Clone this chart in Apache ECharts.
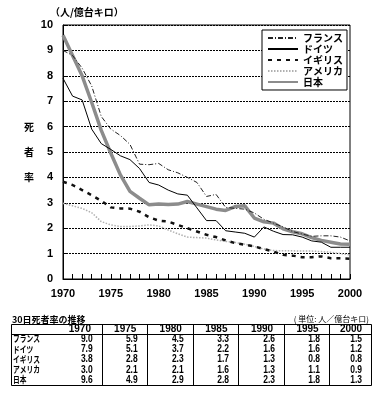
<!DOCTYPE html>
<html><head><meta charset="utf-8">
<script src="https://cdn.jsdelivr.net/npm/echarts@6/dist/echarts.min.js"></script>
<style>html,body{margin:0;padding:0;background:#fff}#c{width:382px;height:395px}</style>
</head><body><div id="c"></div>
<script>
// ---- data ----
const years = [];
for (let y = 1970; y <= 2000; y++) years.push(String(y));
const france  = [9.0, 8.8, 8.3, 7.6, 6.4, 5.9, 5.65, 5.3, 4.52, 4.5, 4.55, 4.3, 4.18, 4.0, 3.8, 3.25, 3.33, 2.82, 2.78, 2.75, 2.6, 2.35, 2.2, 2.05, 1.87, 1.77, 1.68, 1.7, 1.7, 1.65, 1.5];
const germany = [7.9, 7.2, 7.05, 5.9, 5.33, 5.1, 4.85, 4.7, 4.35, 3.8, 3.7, 3.5, 3.35, 3.3, 2.8, 2.3, 2.3, 1.9, 1.85, 1.8, 1.65, 2.05, 1.88, 1.75, 1.74, 1.65, 1.5, 1.45, 1.25, 1.25, 1.25];
const uk      = [3.83, 3.7, 3.5, 3.3, 3.08, 2.82, 2.78, 2.77, 2.65, 2.43, 2.3, 2.26, 2.13, 2.0, 1.87, 1.74, 1.65, 1.52, 1.41, 1.35, 1.28, 1.18, 1.08, 0.95, 0.92, 0.86, 0.86, 0.89, 0.82, 0.82, 0.8];
const usa     = [2.98, 2.88, 2.78, 2.61, 2.26, 2.13, 2.07, 2.07, 2.09, 2.13, 2.09, 1.93, 1.78, 1.65, 1.63, 1.61, 1.54, 1.48, 1.44, 1.37, 1.28, 1.18, 1.12, 1.11, 1.11, 1.1, 1.1, 1.08, 1.05, 1.0, 0.95];
const japan   = [9.6, 8.8, 8.0, 6.95, 5.85, 4.95, 4.1, 3.45, 3.18, 2.92, 2.95, 2.93, 2.95, 3.05, 2.95, 2.85, 2.75, 2.7, 2.85, 2.88, 2.4, 2.25, 2.2, 1.98, 1.86, 1.78, 1.63, 1.52, 1.45, 1.38, 1.37];
const seriesNames = ['フランス', 'ドイツ', 'イギリス', 'アメリカ', '日本'];
const yTicks = [0,1,2,3,4,5,6,7,8,9,10];

const tableTitle = '30日死者率の推移';
const tableUnit = '( 単位: 人／億台キロ)';
const tableYears = ['1970', '1975', '1980', '1985', '1990', '1995', '2000'];
const tFrance  = ['9.0', '5.9', '4.5', '3.3', '2.6', '1.8', '1.5'];
const tGermany = ['7.9', '5.1', '3.7', '2.2', '1.6', '1.6', '1.2'];
const tUk      = ['3.8', '2.8', '2.3', '1.7', '1.3', '0.8', '0.8'];
const tUsa     = ['3.0', '2.1', '2.1', '1.6', '1.3', '1.1', '0.9'];
const tJapan   = ['9.6', '4.9', '2.9', '2.8', '2.3', '1.8', '1.3'];
const tableValues = [tFrance, tGermany, tUk, tUsa, tJapan];

// ---- styles ----
const JP = '"Noto Sans CJK JP", sans-serif';
const NUM = '"Liberation Sans", Arial, sans-serif';
const lineStyles = [
  {color: '#222', width: 1, type: [5, 2, 1, 2]},
  {color: '#000', width: 1, type: 'solid'},
  {color: '#111', width: 2.5, type: [4, 5]},
  {color: '#b0b0b0', width: 1.5, type: [1.5, 1.5]},
  {color: '#8c8c8c', width: 3.5, type: 'solid'}
];
const seriesData = [france, germany, uk, usa, japan];
const zs = [3, 3, 3, 2, 2];

const chart = echarts.init(document.getElementById('c'), null, {renderer: 'canvas'});

// table graphics
const g = [];
const colEdges = [56, 101.7, 146.7, 192.7, 238, 284, 329, 371];
const tLeft = 11, tRight = 371, tTop = 324, tHead = 334, tBottom = 385;
g.push({type: 'rect', shape: {x: tLeft + 0.5, y: tTop + 0.5, width: tRight - tLeft, height: tBottom - tTop}, style: {fill: 'none', stroke: '#000', lineWidth: 1}});
g.push({type: 'line', shape: {x1: tLeft, y1: tHead + 0.5, x2: tRight, y2: tHead + 0.5}, style: {stroke: '#000', lineWidth: 1}});
for (let i = 1; i < colEdges.length - 1; i++) {
  const x = Math.round(colEdges[i]) + 0.5;
  g.push({type: 'line', shape: {x1: x, y1: tTop, x2: x, y2: tBottom}, style: {stroke: '#000', lineWidth: 1}});
}
g.push({type: 'text', style: {text: tableTitle, x: 12, y: 319.5, font: 'bold 9px ' + JP, fill: '#000', textAlign: 'left', textVerticalAlign: 'middle'}});
g.push({type: 'text', style: {text: tableUnit, x: 369, y: 319, font: '8px ' + JP, fill: '#000', textAlign: 'right', textVerticalAlign: 'middle'}});
tableYears.forEach((yr, i) => {
  g.push({type: 'text', style: {text: yr, x: (colEdges[i] + colEdges[i + 1]) / 2 + 1, y: 329.5, font: 'bold 10px ' + NUM, fill: '#000', textAlign: 'center', textVerticalAlign: 'middle'}});
});
seriesNames.forEach((nm, r) => {
  const cy = 339 + r * 10.25;
  g.push({type: 'text', x: 13, y: cy, scaleX: 0.75, style: {text: nm, x: 0, y: 0, font: 'bold 9px ' + JP, fill: '#000', textAlign: 'left', textVerticalAlign: 'middle'}});
  tableValues[r].forEach((v, i) => {
    g.push({type: 'text', x: colEdges[i + 1] - 9, y: cy, scaleX: 0.85, style: {text: v, x: 0, y: 0, font: 'bold 10px ' + NUM, fill: '#000', textAlign: 'right', textVerticalAlign: 'middle'}});
  });
});
// axis captions
g.push({type: 'text', style: {text: '（人/億台キロ）', x: 50, y: 12, font: 'bold 10px ' + JP, fill: '#000', textAlign: 'left', textVerticalAlign: 'middle'}});
['死', '者', '率'].forEach((ch, i) => {
  g.push({type: 'text', style: {text: ch, x: 29, y: 127 + i * 25, font: 'bold 10px ' + JP, fill: '#000', textAlign: 'center', textVerticalAlign: 'middle'}});
});

const option = {
  animation: false,
  backgroundColor: '#fff',
  grid: {left: 63, right: 32, top: 25, bottom: 116, show: true, borderColor: '#000', borderWidth: 1, backgroundColor: 'transparent'},
  legend: {
    data: seriesNames,
    orient: 'vertical',
    left: 262, top: 30,
    backgroundColor: '#fff',
    borderColor: '#000', borderWidth: 1, borderRadius: 0,
    padding: [3, 4, 3, 5],
    itemWidth: 30, itemHeight: 12, itemGap: 1,
    itemStyle: {opacity: 0},
    textStyle: {fontSize: 10, fontWeight: 'bold', fontFamily: JP, color: '#000'}
  },
  xAxis: {
    type: 'category', data: years, boundaryGap: false,
    axisLine: {lineStyle: {color: '#000', width: 1}},
    axisTick: {inside: true, length: 5, interval: 0, lineStyle: {color: '#000'}},
    axisLabel: {interval: (i) => i % 5 === 0, fontSize: 11, fontWeight: 'bold', fontFamily: NUM, color: '#000', margin: 9},
    splitLine: {show: false}
  },
  yAxis: {
    type: 'value', min: yTicks[0], max: yTicks[yTicks.length - 1], interval: 1,
    axisLine: {show: true, lineStyle: {color: '#000', width: 1}},
    axisTick: {show: true, inside: true, length: 4, lineStyle: {color: '#000'}},
    axisLabel: {fontSize: 11, fontWeight: 'bold', fontFamily: NUM, color: '#000', margin: 10},
    splitLine: {show: true, lineStyle: {color: '#000', width: 1, type: [2, 1]}}
  },
  series: seriesNames.map((nm, i) => ({
    name: nm, type: 'line', data: seriesData[i], symbol: 'none', showSymbol: false,
    z: zs[i], lineStyle: lineStyles[i], itemStyle: {color: lineStyles[i].color}
  })),
  graphic: g
};
chart.setOption(option);
</script></body></html>
